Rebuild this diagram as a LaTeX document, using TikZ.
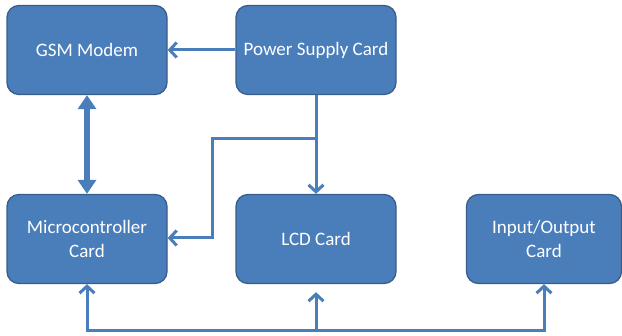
\documentclass[tikz,border=0pt]{standalone}
\usepackage{fontspec}
\setmainfont{Carlito}
\usetikzlibrary{arrows.meta}
\definecolor{boxfill}{HTML}{4A7EBB}
\definecolor{boxline}{HTML}{385D8A}
\definecolor{arrcol}{HTML}{4A7EBB}
\tikzset{
  card/.style={draw=boxline, line width=1.3pt, fill=boxfill, rounded corners=12pt,
    minimum width=160pt, minimum height=89pt, text=white, align=center,
    font=\fontsize{19}{23.5}\selectfont, inner sep=0pt},
  conn/.style={draw=arrcol, line width=3pt},
  barb/.style={conn, -{Straight Barb[length=7pt,width=15pt,line width=3pt]}},
  bibarb/.style={conn, {Straight Barb[length=7pt,width=15pt,line width=3pt]}-{Straight Barb[length=7pt,width=15pt,line width=3pt]}},
  thick2/.style={draw=arrcol, line width=5.5pt, {Triangle[length=14pt,width=18pt]}-{Triangle[length=14pt,width=18pt]}}
}
\begin{document}
\begin{tikzpicture}[x=1pt,y=-1pt]
\useasboundingbox (0,0) rectangle (622,336);
\node[card] (gsm) at (87,50) {GSM Modem};
\node[card] (psu) at (316,50) {Power Supply Card};
\node[card] (mcu) at (87,239) {Microcontroller\\Card};
\node[card] (lcd) at (316,239) {LCD Card};
\node[card, minimum width=155pt] (io) at (544,239) {Input/Output\\Card};
\coordinate (by) at (0,331);
\coordinate (sy) at (0,139);
\coordinate (sx) at (212,0);
\coordinate (my) at (0,238);
\draw[barb] (psu.west) -- (gsm.east);
\draw[thick2] (gsm.south) -- (mcu.north);
\draw[barb] (psu.south) -- (lcd.north);
\draw[barb] (psu.south |- sy) -- (sx |- sy) -- (sx |- my) -- (mcu.east |- my);
\draw[bibarb] (mcu.south) -- (mcu.south |- by) -- (io.south |- by) -- (io.south);
\draw[barb, shorten >=8pt] (lcd.south |- by) -- (lcd.south);
\end{tikzpicture}
\end{document}
